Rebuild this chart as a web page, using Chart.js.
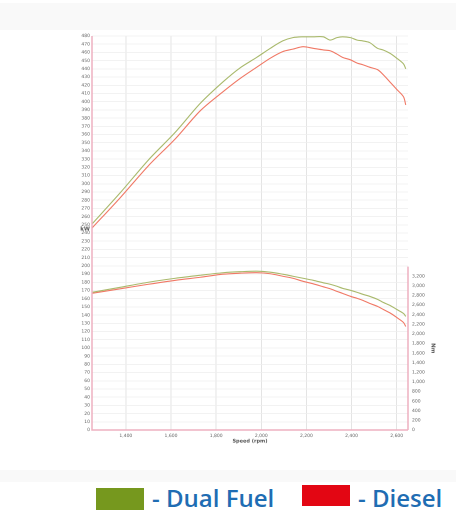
<!DOCTYPE html>
<html>
<head>
<meta charset="utf-8">
<script src="https://cdn.jsdelivr.net/npm/chart.js@4.4.1/dist/chart.umd.min.js"></script>
<style>
  html, body { margin: 0; padding: 0; background: #ffffff; width: 456px; height: 510px; overflow: hidden; }
  #panel { position: absolute; left: 0; top: 3px; width: 456px; height: 479px; background: #f9f9f9; }
  #sheet { position: absolute; left: 0; top: 30px; width: 456px; height: 440px; background: #ffffff; }
  #c { position: absolute; left: 0; top: 0; }
  .box { position: absolute; width: 48px; height: 22px; }
  .lab { position: absolute; font-family: "Open Sans", sans-serif; font-weight: 600; font-size: 24px; color: #1f6db3; line-height: 1; white-space: nowrap; }
</style>
</head>
<body>
<div id="panel"></div>
<div id="sheet"></div>
<canvas id="c" width="456" height="470"></canvas>
<div class="box" style="left:96px; top:488px; background:#76981e;"></div>
<div class="lab" style="left:152px; top:486px;">- Dual Fuel</div>
<div class="box" style="left:302px; top:485px; height:21px; background:#e30613;"></div>
<div class="lab" style="left:358px; top:486px;">- Diesel</div>
<script>
// ---- data ----
const rpm = [1250,1375,1500,1620,1730,1830,1905,1980,2040,2095,2140,2185,2230,2275,2305,2335,2360,2395,2425,2450,2480,2515,2540,2570,2600,2630,2640];
const powerDualFuel = [251,289,329,363,398,424,441,454,465,474,478,479,479,479,475,478,479,478,475,474,472,465,463,459,453,446,440];
const powerDiesel   = [246,283,322,355,389,412,428,442,453,461,464,467,465,463,462,458,454,451,447,445,442,439,433,424,415,406,396];
const torqueDualFuel = [2865,2970,3075,3158,3221,3273,3294,3305,3284,3242,3200,3158,3116,3064,3033,2991,2949,2907,2865,2824,2782,2719,2656,2593,2510,2426,2363];
const torqueDiesel   = [2844,2939,3033,3116,3179,3242,3263,3273,3252,3200,3158,3095,3043,2980,2939,2886,2844,2782,2740,2698,2635,2573,2510,2437,2342,2238,2154];
const xTicks = [1400,1600,1800,2000,2200,2400,2600];
const leftTicks = Array.from({length:49}, (_, i) => i * 10);   // 0..480 kW
const rightTicks = Array.from({length:17}, (_, i) => i * 200); // 0..3200 Nm
const leftTitle = "kW";
const rightTitle = "Nm";
const xTitle = "Speed (rpm)";

const pts = (ys) => rpm.map((x, i) => ({x, y: ys[i]}));
const GREEN = '#a9b96c', RED = '#f07865', PINK = '#eeb0c0';

const framePlugin = {
  id: 'frame',
  afterDraw(chart) {
    const {ctx, chartArea: a, scales} = chart;
    ctx.save();
    ctx.strokeStyle = PINK; ctx.lineWidth = 1.5;
    ctx.beginPath();
    ctx.moveTo(a.left, a.top); ctx.lineTo(a.left, a.bottom); ctx.lineTo(a.right, a.bottom);
    ctx.moveTo(a.right, scales.yR.getPixelForValue(3400)); ctx.lineTo(a.right, a.bottom);
    ctx.stroke();
    ctx.fillStyle = '#555'; ctx.font = 'bold 5.5px "DejaVu Sans", sans-serif';
    ctx.textAlign = 'right'; ctx.textBaseline = 'middle';
    ctx.fillText(leftTitle, a.left - 2, scales.yL.getPixelForValue(245));
    ctx.translate(a.right + 25, scales.yR.getPixelForValue(1700));
    ctx.rotate(Math.PI / 2);
    ctx.textAlign = 'center';
    ctx.fillText(rightTitle, 0, 0);
    ctx.restore();
  }
};

const tickFont = {family: '"DejaVu Sans", sans-serif', size: 4.5};

new Chart(document.getElementById('c'), {
  type: 'line',
  data: {
    datasets: [
      {data: pts(powerDualFuel), yAxisID: 'yL', borderColor: GREEN},
      {data: pts(powerDiesel), yAxisID: 'yL', borderColor: RED},
      {data: pts(torqueDualFuel), yAxisID: 'yR', borderColor: GREEN},
      {data: pts(torqueDiesel), yAxisID: 'yR', borderColor: RED}
    ]
  },
  options: {
    responsive: false,
    animation: false,
    devicePixelRatio: 2,
    layout: {padding: {top: 36, left: 0, right: 0, bottom: 26}},
    elements: {
      line: {borderWidth: 1.1, tension: 0.3, fill: false},
      point: {radius: 0}
    },
    plugins: {legend: {display: false}, tooltip: {enabled: false}},
    scales: {
      x: {
        type: 'linear', min: 1250, max: 2650,
        afterBuildTicks: s => { s.ticks = xTicks.map(v => ({value: v})); },
        afterFit: s => { s.height = 14; },
        ticks: {font: tickFont, color: '#666', padding: 3, maxRotation: 0,
                callback: v => v.toLocaleString('en-US')},
        grid: {color: '#dedede', lineWidth: 0.8, drawTicks: false},
        border: {display: false},
        title: {display: true, text: xTitle, font: {family: '"DejaVu Sans", sans-serif', size: 5, weight: 'bold'}, color: '#555', padding: {top: 1, bottom: 0}}
      },
      yL: {
        position: 'left', min: 0, max: 480,
        afterBuildTicks: s => { s.ticks = leftTicks.map(v => ({value: v})); },
        afterFit: s => { s.width = 92; },
        ticks: {font: tickFont, color: '#666', padding: 2, autoSkip: false},
        grid: {color: '#eeeeee', lineWidth: 0.8, drawTicks: false},
        border: {display: false}
      },
      yR: {
        position: 'right', min: 0, max: 8200,
        afterBuildTicks: s => { s.ticks = rightTicks.map(v => ({value: v})); },
        afterFit: s => { s.width = 48; },
        ticks: {font: tickFont, color: '#666', padding: 4, autoSkip: false},
        grid: {display: false, drawTicks: false},
        border: {display: false}
      }
    }
  },
  plugins: [framePlugin]
});
</script>
</body>
</html>
